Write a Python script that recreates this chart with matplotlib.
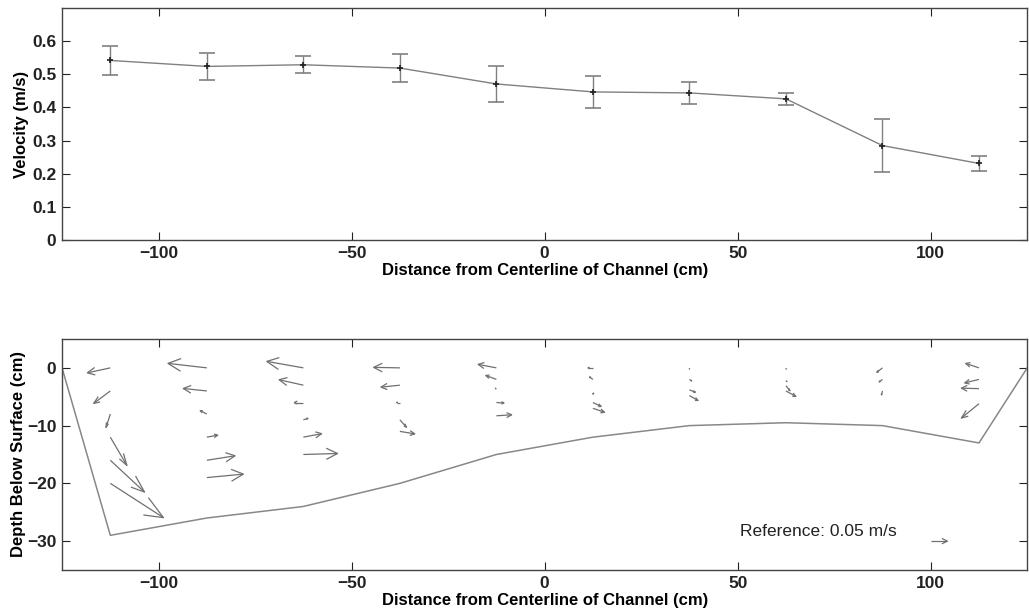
import matplotlib
matplotlib.use("Agg")
import matplotlib.pyplot as plt
from matplotlib.collections import LineCollection
import numpy as np

plt.rcParams['font.family'] = ['Liberation Sans', 'DejaVu Sans']

# top panel: depth-averaged velocity across the channel
distance = [-112.5, -87.5, -62.5, -37.5, -12.5, 12.5, 37.5, 62.5, 87.5, 112.5]
velocity = [0.542, 0.524, 0.529, 0.519, 0.471, 0.447, 0.444, 0.426, 0.285, 0.231]
vel_err = [0.044, 0.040, 0.025, 0.042, 0.055, 0.048, 0.033, 0.017, 0.079, 0.024]

# bottom panel: channel bed profile
bed_x = [-125, -112.5, -87.5, -62.5, -37.5, -12.5, 12.5, 37.5, 62.5, 87.5, 112.5, 125]
bed_z = [0, -29, -26, -24, -20, -15, -12, -10, -9.5, -10, -13, 0]

# velocity vectors (m/s) per profile, listed from the surface down
depths = [
    [0, -4, -8, -12, -16, -20],
    [0, -4, -8, -12, -16, -19],
    [0, -3, -6, -9, -12, -15],
    [0, -3, -6, -9, -11],
    [0, -2, -3.7, -6, -8.3],
    [0, -2, -4.2, -6, -7],
    [0, -2, -3.8, -4.8],
    [0, -2.2, -3.1, -4],
    [0, -2, -4],
    [0, -2, -3.6, -6.2],
]
u_vel = [
    [-0.069, -0.050, -0.013, 0.050, 0.103, 0.160],
    [-0.117, -0.071, -0.020, 0.033, 0.085, 0.110],
    [-0.110, -0.073, -0.027, 0.014, 0.055, 0.103],
    [-0.079, -0.057, -0.010, 0.020, 0.045],
    [-0.055, -0.032, -0.003, 0.023, 0.046],
    [-0.015, -0.010, 0.000, 0.025, 0.035],
    [0.000, 0.007, 0.018, 0.026],
    [0.000, 0.003, 0.012, 0.030],
    [-0.017, -0.010, -0.003],
    [-0.040, -0.043, -0.053, -0.053],
]
w_vel = [
    [-0.010, -0.025, -0.027, -0.057, -0.064, -0.069],
    [0.009, 0.005, 0.007, 0.004, 0.009, 0.007],
    [0.013, 0.011, 0.000, 0.003, 0.007, 0.002],
    [0.001, -0.004, 0.000, -0.015, -0.005],
    [0.007, 0.008, 0.002, -0.001, 0.002],
    [0.000, 0.005, -0.004, -0.008, -0.008],
    [-0.002, -0.003, -0.005, -0.010],
    [-0.002, -0.002, -0.010, -0.011],
    [-0.009, -0.005, -0.008],
    [0.009, -0.007, 0.001, -0.029],
]
ref_speed = 0.05
ref_pos = (100, -30)

scale = 0.05 / 4.3  # m/s per data unit of arrow length


def arrow_segments(x, z, u, w):
    # matlab-style quiver: shaft plus two head strokes, in data units
    du, dw = u / scale, w / scale
    ex, ez = x + du, z + dw
    a, b = 0.33, 0.33
    h1 = (ex - a * (du + b * dw), ez - a * (dw - b * du))
    h2 = (ex - a * (du - b * dw), ez - a * (dw + b * du))
    return [[(x, z), (ex, ez)], [h1, (ex, ez), h2]]


def style_axes(ax):
    ax.tick_params(direction='in', length=6, width=0.8, top=True, right=True,
                   labelsize=12.5, pad=4, colors='#222222')
    for lab in ax.get_xticklabels() + ax.get_yticklabels():
        lab.set_fontweight('bold')
    for sp in ax.spines.values():
        sp.set_color('#444444')
        sp.set_linewidth(1.0)


fig = plt.figure(figsize=(10.29, 6.15), dpi=100)
ax1 = fig.add_axes([0.0603, 0.6098, 0.938, 0.377])
ax2 = fig.add_axes([0.0603, 0.0732, 0.938, 0.3756])

ax1.errorbar(distance, velocity, yerr=vel_err, color='#808080', lw=1.0,
             capsize=6, capthick=1.0, elinewidth=1.0,
             marker='+', ms=5, mec='#222222', mew=1.2)
ax1.set_xlim(-125, 125)
ax1.set_ylim(0, 0.7)
ax1.set_xticks([-100, -50, 0, 50, 100])
ax1.set_yticks([0, 0.1, 0.2, 0.3, 0.4, 0.5, 0.6])
ax1.set_yticklabels(['0', '0.1', '0.2', '0.3', '0.4', '0.5', '0.6'])
ax1.set_xlabel('Distance from Centerline of Channel (cm)', fontsize=12,
               fontweight='bold', labelpad=2)
ax1.set_ylabel('Velocity (m/s)', fontsize=12, fontweight='bold', labelpad=2)
style_axes(ax1)

ax2.plot(bed_x, bed_z, color='#888888', lw=1.1)
segs = []
for x, zs, us, ws in zip(distance, depths, u_vel, w_vel):
    for z, u, w in zip(zs, us, ws):
        segs.extend(arrow_segments(x, z, u, w))
segs.extend(arrow_segments(ref_pos[0], ref_pos[1], ref_speed, 0))
ax2.add_collection(LineCollection(segs, colors='#707070', linewidths=0.9))
ax2.text(50.5, -28.3, 'Reference: 0.05 m/s', fontsize=12.5, va='center',
         ha='left', color='#222222')
ax2.set_xlim(-125, 125)
ax2.set_ylim(-35, 5)
ax2.set_xticks([-100, -50, 0, 50, 100])
ax2.set_yticks([-30, -20, -10, 0])
ax2.set_xlabel('Distance from Centerline of Channel (cm)', fontsize=12,
               fontweight='bold', labelpad=2)
ax2.set_ylabel('Depth Below Surface (cm)', fontsize=12, fontweight='bold',
               labelpad=1)
style_axes(ax2)

fig.savefig('out.png', dpi=100)
